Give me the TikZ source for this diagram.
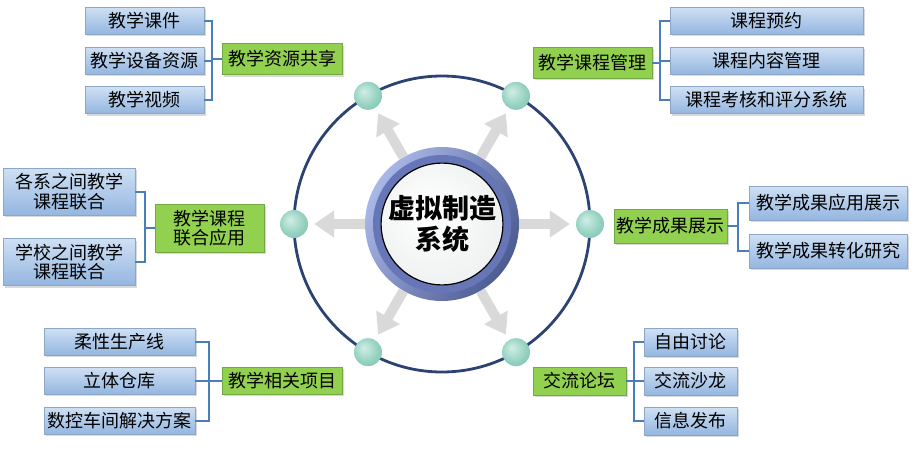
\documentclass[tikz,border=0pt]{standalone}
\usepackage{fontspec}
\setmainfont{Noto Sans CJK SC}
\usetikzlibrary{arrows.meta,shadows}
\definecolor{leaftop}{HTML}{CFE0F4}
\definecolor{leafbot}{HTML}{94B6E0}
\definecolor{leafline}{HTML}{8EA6C6}
\definecolor{topicfill}{HTML}{92D050}
\definecolor{topicline}{HTML}{74A842}
\definecolor{brkblue}{HTML}{4A7EBB}
\definecolor{orbitblue}{HTML}{2B4272}
\definecolor{ballin}{HTML}{D2EEE6}
\definecolor{ballmid}{HTML}{94D1C0}
\definecolor{ballout}{HTML}{65B19B}
\definecolor{ringlight}{HTML}{AAB8E8}
\definecolor{ringdark}{HTML}{4C5B92}
\definecolor{ringmid}{HTML}{6676B6}
\definecolor{coremid}{HTML}{EEF1F1}
\definecolor{coreout}{HTML}{C2CBCB}
\pgfdeclareradialshading{ballfade}{\pgfpoint{-8bp}{8bp}}{color(0bp)=(ballin); color(22bp)=(ballmid); color(50bp)=(ballout)}
\pgfdeclareradialshading{corefade}{\pgfpoint{-6bp}{6bp}}{color(0bp)=(white); color(30bp)=(coremid); color(50bp)=(coreout)}
\tikzset{
    leaf/.style={draw=leafline, top color=leaftop, bottom color=leafbot, minimum height=27pt, inner sep=0pt,
        font=\fontsize{18}{19.5}\selectfont, align=center, drop shadow={opacity=0.3, shadow xshift=2pt, shadow yshift=-2pt}},
    topic/.style={draw=topicline, fill=topicfill, minimum height=31pt, inner sep=0pt,
        font=\fontsize{18}{19.5}\selectfont, align=center, drop shadow={opacity=0.3, shadow xshift=2pt, shadow yshift=-2pt}},
    brk/.style={draw=brkblue, line width=2pt},
    orbit/.style={draw=orbitblue, line width=2.8pt},
    ball/.style={circle, minimum size=28pt, inner sep=0pt, shade, shading=ballfade},
    garrow/.style={draw=gray!30, line width=10pt, -{Triangle[width=26pt,length=20pt]}, shorten >=6pt}
}
\begin{document}
\begin{tikzpicture}[x=1pt, y=-1pt]
        \useasboundingbox (0, 0) rectangle (920, 450);
        \draw[orbit] (442, 224) circle (148);
        \node[circle, minimum size=154pt, inner sep=0pt, left color=ringlight, right color=ringdark, shading angle=60] (hub) at (442, 224) {};
        \begin{scope}[shift={(442, 224)}]
            \foreach \a/\n in {0/bR, -60/bTR, -120/bTL, 180/bL, 120/bBL, 60/bBR}
                \node[ball] (\n) at (\a:148) {};
        \end{scope}
        \foreach \n in {bR, bTR, bTL, bL, bBL, bBR}
            \draw[garrow] (hub) -- (\n);
        \node[circle, minimum size=138pt, inner sep=0pt, fill=ringmid] (ring) at (hub.center) {};
        \node[circle, minimum size=120pt, inner sep=0pt, draw=black, line width=1.2pt, shade, shading=corefade,
            font=\fontsize{27}{31}\selectfont\bfseries, align=center] (core) at (hub.center) {虚拟制造\\系统};

        \node[topic, minimum width=120pt] (zy) at (282, 59) {教学资源共享};
        \node[leaf, minimum width=119pt] (kj) at (144.5, 20.5) {教学课件};
        \node[leaf, minimum width=119pt] (sb) at (144.5, 60.5) {教学设备资源};
        \node[leaf, minimum width=119pt] (sp) at (144.5, 100) {教学视频};
        \draw[brk] (zy.west) -- ++(-10, 0) coordinate (jzy);
        \foreach \n in {kj, sb, sp}
            \draw[brk] (jzy) |- (\n.east);

        \node[topic, minimum width=119pt] (gl) at (592.5, 62.5) {教学课程管理};
        \node[leaf, minimum width=193pt] (yy) at (766.5, 20.5) {课程预约};
        \node[leaf, minimum width=193pt] (nr) at (766.5, 60.5) {课程内容管理};
        \node[leaf, minimum width=193pt] (kh) at (766.5, 100) {课程考核和评分系统};
        \draw[brk] (gl.east) -- ++(8, 0) coordinate (jgl);
        \foreach \n in {yy, nr, kh}
            \draw[brk] (jgl) |- (\n.west);

        \node[topic, minimum width=109pt, minimum height=48pt] (lh) at (209.5, 228) {教学课程\\联合应用};
        \node[leaf, minimum width=132pt, minimum height=47pt] (gx) at (69, 191.5) {各系之间教学\\课程联合};
        \node[leaf, minimum width=132pt, minimum height=47pt] (xj) at (69, 262) {学校之间教学\\课程联合};
        \draw[brk] (lh.west) -- ++(-10, 0) coordinate (jlh);
        \foreach \n in {gx, xj}
            \draw[brk] (jlh) |- (\n.east);

        \node[topic, minimum width=113pt, minimum height=34pt] (zs) at (670.5, 226) {教学成果展示};
        \node[leaf, minimum width=158pt, minimum height=34pt] (yz) at (828, 203) {教学成果应用展示};
        \node[leaf, minimum width=158pt, minimum height=34pt] (zh) at (828, 251) {教学成果转化研究};
        \draw[brk] (zs.east) -- ++(11, 0) coordinate (jzs);
        \foreach \n in {yz, zh}
            \draw[brk] (jzs) |- (\n.west);

        \node[topic, minimum width=120pt, minimum height=27pt] (xm) at (282, 380.5) {教学相关项目};
        \node[leaf, minimum width=151pt] (rx) at (119.5, 341.5) {柔性生产线};
        \node[leaf, minimum width=151pt] (ck) at (119.5, 380.5) {立体仓库};
        \node[leaf, minimum width=151pt] (sk) at (119.5, 420.5) {数控车间解决方案};
        \draw[brk] (xm.west) -- ++(-13, 0) coordinate (jxm);
        \foreach \n in {rx, ck, sk}
            \draw[brk] (jxm) |- (\n.east);

        \node[topic, minimum width=93pt, minimum height=28pt] (lt) at (579.5, 381) {交流论坛};
        \node[leaf, minimum width=93pt, minimum height=28pt] (tl) at (690.5, 342) {自由讨论};
        \node[leaf, minimum width=93pt, minimum height=28pt] (sl) at (690.5, 381) {交流沙龙};
        \node[leaf, minimum width=93pt, minimum height=28pt] (fb) at (690.5, 421) {信息发布};
        \draw[brk] (lt.east) -- ++(8, 0) coordinate (jlt);
        \foreach \n in {tl, sl, fb}
            \draw[brk] (jlt) |- (\n.west);
    \end{tikzpicture}
\end{document}
